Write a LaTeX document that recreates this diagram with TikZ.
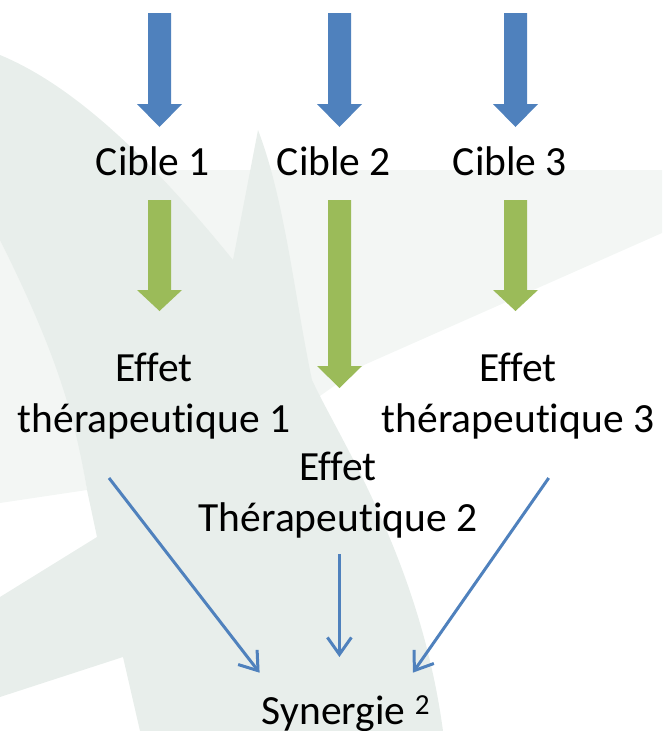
\documentclass[tikz,border=0pt]{standalone}
\usepackage{fontspec}
\setmainfont{Carlito}[Ligatures=NoCommon]
\usetikzlibrary{arrows.meta}
\definecolor{arrowblue}{RGB}{79,129,189}
\definecolor{arrowgreen}{RGB}{155,187,89}
\definecolor{logodark}{RGB}{232,238,235}
\definecolor{logolight}{RGB}{243,246,244}
% #1 colour, #2 x of axis, #3 top, #4 start of head, #5 tip
\newcommand{\fatarrow}[5]{%
  \fill[#1] (#2-11.5,#3) -- (#2+11.5,#3) -- (#2+11.5,#4) -- (#2+22.5,#4)
    -- (#2,#5) -- (#2-22.5,#4) -- (#2-11.5,#4) -- cycle;}
\begin{document}
\begin{tikzpicture}[x=1pt,y=-1pt,
    lbl/.style={font=\fontsize{41.5}{51.5}\selectfont, inner sep=0pt, anchor=base},
    link/.style={arrowblue, line width=3pt,
      -{Straight Barb[length=17pt,width=24pt]}}]
  \useasboundingbox (0,0) rectangle (662,731);
  % watermark
  \fill[logolight] (146,170) -- (662,170) -- (662,233) -- (364,365) -- (300,410)
    -- (230,260) -- cycle;
  \fill[logolight] (0,180) -- (60,330) -- (87,490) -- (0,503) -- cycle;
  \fill[logodark] (0,55) .. controls (80,88) and (160,170) .. (233,260)
    -- (258,130) .. controls (285,200) and (295,300) .. (312,380)
    .. controls (340,440) and (420,560) .. (443,731)
    -- (140,731) -- (123,657) -- (0,697) -- (0,597) -- (97,537) -- (87,490)
    .. controls (75,420) and (60,360) .. (0,240) -- cycle;
  % fat arrows
  \fatarrow{arrowblue}{159.5}{13}{104}{127}
  \fatarrow{arrowblue}{339.5}{13}{104}{127}
  \fatarrow{arrowblue}{515.5}{13}{104}{127}
  \fatarrow{arrowgreen}{159.5}{200}{290}{311}
  \fatarrow{arrowgreen}{339.5}{200}{366}{388}
  \fatarrow{arrowgreen}{515.5}{200}{290}{311}
  % labels
  \node[lbl] (c1) at (153,175) {Cible 1};
  \node[lbl] (c2) at (334,175) {Cible 2};
  \node[lbl] (c3) at (510,175) {Cible 3};
  \node[lbl, align=center] (e1) at (154,432.5) {Effet\\thérapeutique 1};
  \node[lbl, align=center] (e3) at (518,432.5) {Effet\\thérapeutique 3};
  \node[lbl, align=center] (e2) at (338,531.5) {Effet\\Thérapeutique 2};
  \node[lbl] (syn) at (346,724) {Synergie \textsuperscript{2}};
  \begin{scope}
    \draw[link] ([shift={(-45,45.5)}]e1.base) -- ([shift={(-86.4,-51.3)}]syn.base);
    \draw[link] ([shift={(1.4,22.5)}]e2.base) -- ([shift={(-6.6,-67)}]syn.base);
    \draw[link] ([shift={(30.7,45.5)}]e3.base) -- ([shift={(66.8,-51.3)}]syn.base);
  \end{scope}
\end{tikzpicture}
\end{document}
